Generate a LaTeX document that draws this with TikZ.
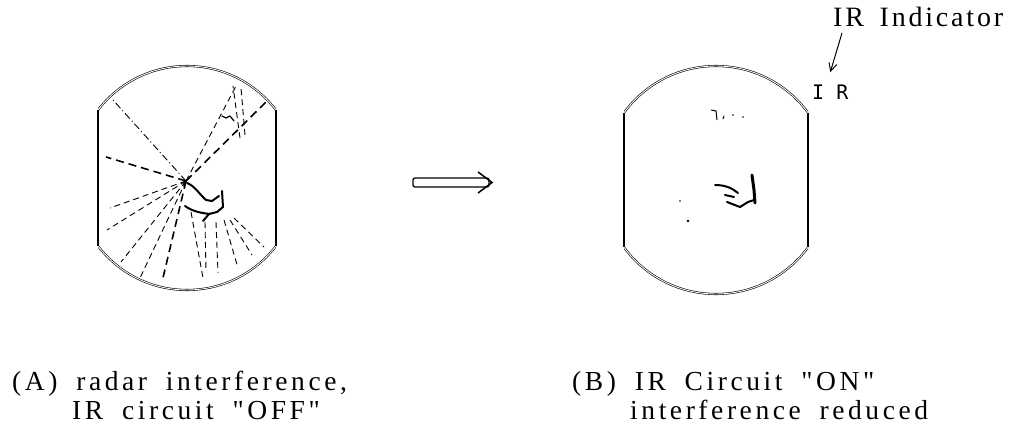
\documentclass[tikz,border=0pt]{standalone}
\usepackage{fontspec}
\setmainfont{Liberation Serif}[LetterSpace=13, WordSpace=1.8, Ligatures=TeXOff]
\newfontfamily\tagfont{Liberation Serif}[LetterSpace=10, WordSpace=1.6, Ligatures=TeXOff]
\newfontfamily\indfont{DejaVu Sans Mono}
\usetikzlibrary{arrows.meta,calc}

\tikzset{
  screen rim/.style={line width=0.6pt, double=white, double distance=0.9pt},
  screen side/.style={line width=1.6pt},
  ray/.style={line width=0.9pt, dash pattern=on 6pt off 4pt},
  heavy ray/.style={line width=1.6pt, dash pattern=on 8pt off 5pt},
  dot ray/.style={line width=0.9pt, dash pattern=on 7pt off 3pt on 1pt off 3pt},
  blip/.style={line width=2pt, line cap=round, line join=round},
  caption/.style={anchor=base west, inner sep=0pt, font=\fontsize{27.5}{33}\selectfont},
}

\begin{document}
\begin{tikzpicture}[x=1pt, y=-1pt]
    \useasboundingbox (0,0) rectangle (1013,425);

    % screen A, interference on
    \begin{scope}
        \clip (98,0) rectangle (276,425);
        \draw[screen rim] (187,178) circle[radius=112];
    \end{scope}
    \draw[screen side] (98,110) -- (98,246);
    \draw[screen side] (276,110) -- (276,246);

    \coordinate (hub) at (186,181);
    \draw[dot ray] (hub) -- (113,100);
    \foreach \x/\y in {106/157, 162/282, 266/102}
        \draw[heavy ray] (hub) -- (\x,\y);
    \foreach \x/\y in {110/208, 107/230, 121/262, 140/278, 236/86}
        \draw[ray] (hub) -- (\x,\y);
    \draw[ray] (240,138) -- (233,86);
    \draw[ray] (245,135) -- (241,88);
    \foreach \a/\b/\x/\y in {191/212/203/278, 205/222/206/272, 216/222/218/273,
                             224/220/238/268, 230/220/252/255, 234/218/264/247}
        \draw[ray] (\a,\b) -- (\x,\y);

    \draw[blip, line width=1.2pt] (222,116) -- (226,118) -- (230,116) -- (234,121);
    \draw[blip] (187,183) .. controls (195,186) and (200,195) .. (206,200) -- (212,201) -- (219,196);
    \draw[blip] (222,191) -- (223,207) -- (217,212) -- (209,214) -- (203,221);
    \draw[blip] (185,206) .. controls (192,211) and (200,213) .. (210,214);

    % change-over arrow
    \draw[line width=1.3pt, rounded corners=2pt] (413,178) rectangle (489,187);
    \draw[line width=1.5pt] (478,172) -- (492,182.5) -- (478,193);

    % screen B, interference reduced
    \begin{scope}
        \clip (624,0) rectangle (808,425);
        \draw[screen rim] (716,180) circle[radius=114];
    \end{scope}
    \draw[screen side] (624,113) -- (624,247);
    \draw[screen side] (808,113) -- (808,247);

    \draw[line width=1pt] (711,110) -- (716,111) -- (717,120);
    \draw[line width=1pt] (724,116) -- (723,119);
    \fill (733,115) circle[radius=0.8];
    \fill (743,117) circle[radius=0.8];

    \draw[blip] (715,185) .. controls (725,185) and (732,188) .. (738,193);
    \draw[blip, line width=3pt] (752,175) -- (754,190) -- (755,203);
    \draw[blip] (727,202) -- (740,207) -- (748,202) -- (754,200);
    \draw[blip] (725,195) -- (734,197);
    \fill (680,201) circle[radius=0.8];
    \fill (688,221) circle[radius=1.3];

    % labels
    \node[caption] (capA1) at (12,390) {(A) radar interference,};
    \node[caption] (capA2) at (72,419) {IR circuit "OFF"};
    \node[caption] (capB1) at (572,390) {(B) IR Circuit "ON"};
    \node[caption] (capB2) at (630,419) {interference reduced};

    \node[caption, font=\tagfont\fontsize{28}{33}\selectfont] (indicator) at (833,27) {IR Indicator};
    \node[anchor=base west, inner sep=0pt, font=\indfont\fontsize{20}{24}\selectfont] (irmark) at (812,100) {I R};
    \draw[-{Straight Barb[length=8pt,width=8pt]}, line width=1pt]
        ($(indicator.base west)+(9,6)$) -- ($(irmark.north)+(0,-13)$);
\end{tikzpicture}
\end{document}
